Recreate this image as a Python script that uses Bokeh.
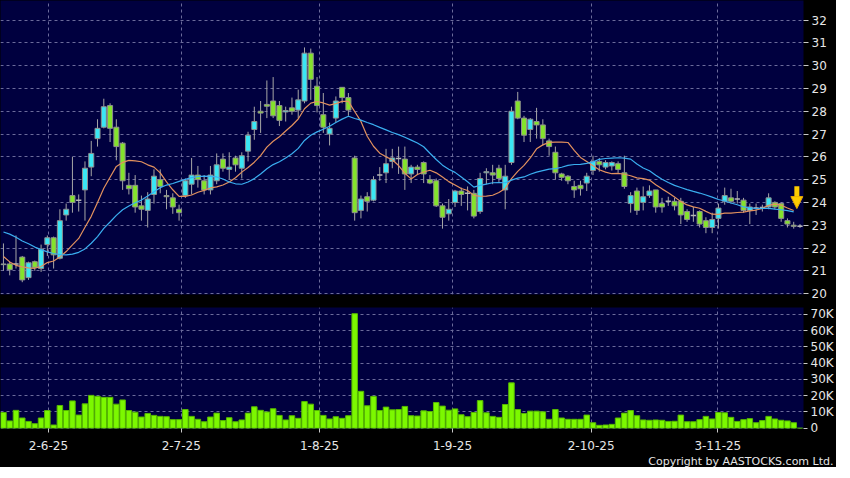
import numpy as np
import pandas as pd
from bokeh.plotting import figure
from bokeh.layouts import column
from bokeh.models import Range1d, FixedTicker, Title, Arrow, NormalHead
from bokeh.embed import file_html
from bokeh.resources import INLINE

# ---------------- data ----------------
open_ = [21.27, 21.3, 21.3, 21.6, 20.7, 21.4, 21.1, 22.15, 22.45, 21.55,
         23.45, 24.3, 24.1, 24.55, 25.55, 26.8, 27.3, 28.25, 27.3, 26.6,
         24.75, 24.75, 23.85, 23.65, 24.35, 25.0, 24.3, 24.2, 23.7, 24.3,
         24.8, 25.2, 24.95, 24.55, 24.95, 25.9, 25.45, 25.95, 25.5, 26.25,
         27.2, 28.0, 28.3, 28.45, 28.25, 27.97, 28.15, 28.05, 28.45, 30.55,
         29.1, 27.85, 27.0, 27.7, 29.05, 28.6, 25.95, 23.65, 24.25, 24.1,
         25.2, 25.3, 25.8, 25.93, 25.9, 25.25, 25.55, 25.75, 25.0, 24.95,
         23.85, 23.5, 24.0, 24.5, 24.4, 24.4, 23.6, 25.3, 25.3, 25.5,
         24.55, 25.75, 28.45, 27.7, 27.2, 27.55, 27.4, 26.7, 26.2, 25.25,
         25.15, 24.7, 24.75, 24.85, 25.4, 25.8, 25.55, 25.6, 25.7, 25.3,
         23.95, 24.5, 24.0, 24.3, 24.55, 23.95, 24.05, 24.05, 24.05, 23.6,
         23.43, 23.6, 23.2, 22.9, 23.3, 24.05, 24.2, 24.15, 24.1, 23.65,
         23.76, 23.78, 23.8, 24.0, 23.95, 23.2, 23.0, 22.96]
high = [22.2, 21.4, 22.55, 21.65, 21.4, 21.45, 22.15, 22.55, 22.5, 23.7,
        23.95, 26.0, 24.35, 25.8, 26.7, 27.65, 28.55, 28.35, 27.65, 26.65,
        25.3, 25.2, 24.3, 24.45, 25.45, 25.45, 24.55, 24.4, 23.9, 25.05,
        25.95, 25.6, 25.2, 25.6, 26.15, 26.15, 26.2, 26.05, 26.2, 27.1,
        28.2, 28.45, 29.35, 29.5, 28.45, 28.2, 28.6, 28.95, 30.8, 30.75,
        29.5, 28.8, 27.5, 28.65, 29.05, 28.8, 26.05, 24.3, 24.45, 25.15,
        25.55, 26.35, 26.35, 26.45, 26.45, 25.65, 25.65, 25.8, 25.2, 25.05,
        23.95, 24.15, 24.55, 24.65, 24.7, 24.55, 25.3, 25.5, 25.65, 25.65,
        25.65, 28.2, 28.85, 27.8, 27.7, 28.15, 27.65, 26.8, 26.45, 25.3,
        25.2, 24.95, 24.95, 25.3, 26.05, 25.95, 25.85, 25.8, 25.8, 26.05,
        24.45, 24.65, 24.7, 24.75, 24.55, 24.2, 24.25, 24.2, 24.2, 23.7,
        23.8, 23.65, 23.35, 23.55, 23.95, 24.65, 24.6, 24.5, 24.2, 23.95,
        23.95, 23.9, 24.4, 24.05, 24.0, 23.3, 23.15, 23.05]
low = [21.0, 20.8, 21.1, 20.5, 20.6, 21.0, 20.95, 21.65, 21.1, 21.5,
       23.2, 23.55, 23.6, 23.2, 25.15, 26.45, 27.25, 26.65, 25.85, 24.55,
       24.35, 23.55, 23.2, 22.9, 23.95, 24.4, 23.7, 23.5, 23.2, 24.2,
       24.35, 24.65, 24.35, 24.35, 24.8, 25.35, 25.0, 25.35, 25.05, 25.8,
       26.75, 27.05, 27.7, 27.7, 27.35, 27.55, 27.85, 27.7, 28.35, 28.5,
       27.95, 27.05, 26.5, 27.5, 28.35, 27.8, 23.2, 23.3, 23.6, 24.05,
       24.95, 24.85, 25.5, 25.25, 24.55, 24.85, 25.2, 24.85, 24.8, 23.8,
       22.85, 23.2, 23.8, 23.85, 23.65, 23.3, 23.5, 24.8, 24.8, 24.9,
       23.7, 25.65, 27.65, 26.65, 26.65, 26.8, 26.5, 26.05, 25.0, 24.95,
       24.8, 24.2, 24.3, 24.5, 25.2, 25.35, 25.45, 25.4, 25.3, 24.6,
       23.55, 23.45, 23.65, 24.2, 23.55, 23.55, 23.85, 23.65, 23.05, 23.15,
       23.15, 22.9, 22.65, 22.65, 22.85, 23.9, 23.95, 23.95, 23.55, 23.05,
       23.45, 23.6, 23.7, 23.7, 23.15, 22.9, 22.85, 22.88]
close = [21.3, 21.05, 21.3, 20.6, 21.35, 21.15, 21.95, 22.45, 21.7, 23.2,
         23.7, 24.0, 24.1, 25.5, 26.15, 27.25, 28.2, 27.25, 26.45, 24.95,
         24.6, 23.8, 23.7, 24.15, 25.15, 24.7, 24.25, 23.8, 23.55, 24.95,
         25.2, 25.0, 24.55, 25.2, 25.65, 25.5, 25.55, 25.65, 26.05, 26.95,
         27.55, 27.92, 28.22, 27.8, 27.6, 28.03, 28.0, 28.5, 30.55, 29.4,
         28.25, 27.3, 27.25, 28.45, 28.6, 28.05, 23.55, 24.15, 24.05, 25.0,
         25.2, 25.7, 25.95, 25.93, 25.25, 25.55, 25.45, 25.25, 24.85, 23.85,
         23.35, 23.7, 24.5, 24.35, 24.4, 23.4, 25.05, 25.35, 25.2, 25.05,
         25.15, 28.0, 27.7, 26.95, 27.65, 27.4, 26.8, 26.45, 25.3, 25.1,
         24.95, 24.55, 24.6, 25.15, 25.8, 25.65, 25.75, 25.75, 25.45, 24.7,
         24.3, 23.65, 24.25, 24.5, 23.8, 23.8, 24.05, 23.85, 23.45, 23.25,
         23.43, 23.05, 22.9, 23.25, 23.75, 24.3, 24.05, 24.15, 23.65, 23.8,
         23.76, 23.78, 24.2, 23.8, 23.3, 23.05, 22.95, 22.96]
volume_k = [9.7, 4.5, 11, 6.3, 4.2, 2.8, 6.3, 10.9, 2, 14,
            10.9, 16.8, 8.1, 15, 20.2, 19.6, 19, 19, 14.8, 17.4,
            10.9, 9.9, 6.9, 9.1, 7.9, 7.3, 7.1, 5.3, 5.3, 11.5,
            7.3, 5.5, 4, 6.9, 9.3, 4.7, 6.5, 4, 5.1, 9.3,
            13.2, 11, 10, 12, 7.9, 5.1, 7.7, 6.1, 16.4, 14.8,
            10.9, 7.9, 5.7, 7.1, 6.1, 7.7, 70.4, 22.7, 13.8, 19.6,
            10.9, 13, 11.3, 11.5, 13.4, 7.7, 7.5, 10.7, 10.3, 15.8,
            13.6, 11.1, 11.9, 8.3, 7.1, 9.7, 17, 9.5, 7.3, 6.7,
            14.6, 27.9, 11.5, 9.1, 10.5, 10.5, 10.1, 5.5, 11.5, 6.3,
            5.5, 5.5, 5.5, 8.1, 3.4, 1.8, 2, 2.4, 6.3, 9.3,
            10.9, 7.7, 5.1, 4.9, 5.1, 4.9, 4.2, 4.3, 8.1, 4,
            4, 5.3, 7.3, 5.7, 9.7, 9.5, 6.7, 4.2, 5.3, 5.9,
            3.4, 4.7, 7.3, 5.7, 4.9, 4.5, 3.4, 0]
# moving averages at the start of the window (history before it is not shown)
ma10_head = [21.63, 21.39, 21.24, 21.17, 21.13, 21.11, 21.19, 21.36, 21.43]
ma20_head = [22.7, 22.61, 22.47, 22.31, 22.19, 22.04, 21.93, 21.83, 21.76, 21.71,
             21.7, 21.73, 21.81, 21.96, 22.21, 22.5, 22.86, 23.14, 23.43]
date_tick_pos = [7.17, 28.35, 50.4, 71.6, 93.7, 113.9]
date_tick_labels = ["2-6-25", "2-7-25", "1-8-25", "1-9-25", "2-10-25", "3-11-25"]
price_ticks = list(range(20, 33))
vol_ticks = [0, 10000, 20000, 30000, 40000, 50000, 60000, 70000]
vol_tick_labels = ["0", "10K", "20K", "30K", "40K", "50K", "60K", "70K"]

# ---------------- derived ----------------
o = np.array(open_); h = np.array(high); l = np.array(low); c = np.array(close)
n = len(c)
idx = np.arange(n)
ma10 = pd.Series(c).rolling(10).mean().to_numpy()
ma10[:len(ma10_head)] = ma10_head
ma20 = pd.Series(c).rolling(20).mean().to_numpy()
ma20[:len(ma20_head)] = ma20_head

UP = "#3ae6f4"
DOWN = "#84e32c"
DOJI = "#b4b4b4"
BG = "#00003f"
GRID = "#6b6b9b"
TXT = "#e6e6e6"
FONT = "DejaVu Sans"
FW = 803

up = c > o
eq = c == o

x_range = Range1d(-0.47, 127.56)

# ---------------- price panel ----------------
p = figure(frame_width=FW, frame_height=294, x_range=x_range,
           y_range=Range1d(19.96, 32.86), y_axis_location="right",
           toolbar_location=None, output_backend="svg",
           background_fill_color=BG, border_fill_color="black",
           outline_line_color=None, min_border=0, min_border_bottom=7)
p.xaxis.visible = False
p.xgrid.ticker = FixedTicker(ticks=date_tick_pos)
p.yaxis.ticker = FixedTicker(ticks=price_ticks)
for g in (p.xgrid, p.ygrid):
    g.grid_line_color = GRID
    g.grid_line_dash = "3 3"
    g.grid_line_width = 1
p.yaxis.axis_line_color = None
p.yaxis.major_tick_line_color = "#c8c8c8"
p.yaxis.major_tick_out = 5
p.yaxis.major_tick_in = 0
p.yaxis.minor_tick_line_color = None
p.yaxis.major_label_text_color = TXT
p.yaxis.major_label_text_font = FONT
p.yaxis.major_label_text_font_size = "12px"
p.yaxis.major_label_standoff = 3

# wicks
p.segment(x0=idx, y0=l, x1=idx, y1=h, line_color="#a6a6a6", line_width=1)
# bodies
body_colors = np.where(up, UP, DOWN)
mask = ~eq
p.vbar(x=idx[mask], width=0.8, top=np.maximum(o, c)[mask], bottom=np.minimum(o, c)[mask],
       fill_color=body_colors[mask], line_color="#8f8f8f", line_width=1)
# doji
p.segment(x0=idx[eq] - 0.42, y0=c[eq], x1=idx[eq] + 0.42, y1=c[eq],
          line_color=DOJI, line_width=1.5)
# moving averages
p.line(idx[:-1], ma10[:-1], line_color="#e2915e", line_width=1.2)
p.line(idx[:-1], ma20[:-1], line_color="#3aaef0", line_width=1.2)
# last-price arrow
GOLD = "#ffcc00"
xa = idx[-1] - 0.5
p.add_layout(Arrow(end=NormalHead(size=12, fill_color=GOLD, line_color="#e8a800", line_width=1),
                   x_start=xa, y_start=c[-1] + 1.75, x_end=xa, y_end=c[-1] + 0.77,
                   line_color=GOLD, line_width=5))

# ---------------- volume panel ----------------
v = figure(frame_width=FW, frame_height=121, x_range=x_range,
           y_range=Range1d(-150, 74200), y_axis_location="right",
           toolbar_location=None, output_backend="svg",
           background_fill_color=BG, border_fill_color="black",
           outline_line_color=None, min_border=0, min_border_top=6)
v.vbar(x=idx, width=0.88, top=np.array(volume_k) * 1000, bottom=0,
       fill_color="#7cf800", line_color="#56b800", line_width=1)
v.xaxis.ticker = FixedTicker(ticks=date_tick_pos)
v.xaxis.major_label_overrides = {t: s for t, s in zip(date_tick_pos, date_tick_labels)}
v.yaxis.ticker = FixedTicker(ticks=vol_ticks)
v.yaxis.major_label_overrides = {t: s for t, s in zip(vol_ticks, vol_tick_labels)}
for g in (v.xgrid, v.ygrid):
    g.grid_line_color = GRID
    g.grid_line_dash = "3 3"
    g.grid_line_width = 1
for ax in (v.xaxis, v.yaxis):
    ax.axis_line_color = None
    ax.major_tick_line_color = "#c8c8c8"
    ax.major_tick_in = 0
    ax.major_tick_out = 4
    ax.minor_tick_line_color = None
    ax.major_label_text_color = TXT
    ax.major_label_text_font = FONT
    ax.major_label_text_font_size = "12px"
v.xaxis.major_label_standoff = 8
v.yaxis.major_label_standoff = 3
v.add_layout(Title(text="Copyright by AASTOCKS.com Ltd.", align="right",
                   text_font=FONT, text_font_size="11px", text_font_style="normal",
                   text_color=TXT, standoff=0, offset=-30), "below")

layout = column(p, v, spacing=0, styles={"background-color": "black"})
open("out.html", "w").write(file_html(layout, INLINE))
